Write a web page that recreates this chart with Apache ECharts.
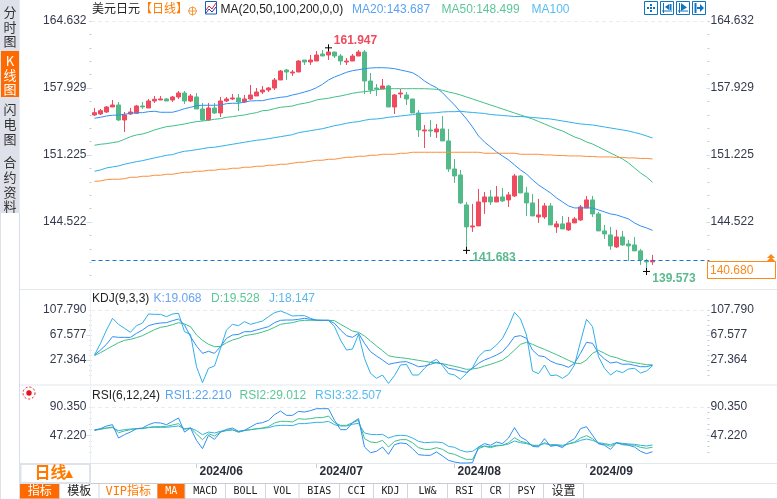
<!DOCTYPE html>
<html><head><meta charset="utf-8">
<style>html,body{margin:0;padding:0;background:#fff}#c{width:777px;height:499px}</style>
<script src="https://cdn.jsdelivr.net/npm/echarts@6/dist/echarts.min.js"></script>
</head><body><div id="c"></div>
<script>
const dates=['2024/05/09','2024/05/10','2024/05/13','2024/05/14','2024/05/15','2024/05/16','2024/05/17','2024/05/20','2024/05/21','2024/05/22','2024/05/23','2024/05/24','2024/05/27','2024/05/28','2024/05/29','2024/05/30','2024/05/31',
'2024/06/03','2024/06/04','2024/06/05','2024/06/06','2024/06/07','2024/06/10','2024/06/11','2024/06/12','2024/06/13','2024/06/14','2024/06/17','2024/06/18','2024/06/19','2024/06/20','2024/06/21','2024/06/24','2024/06/25','2024/06/26','2024/06/27','2024/06/28',
'2024/07/01','2024/07/02','2024/07/03','2024/07/04','2024/07/05','2024/07/08','2024/07/09','2024/07/10','2024/07/11','2024/07/12','2024/07/15','2024/07/16','2024/07/17','2024/07/18','2024/07/19','2024/07/22','2024/07/23','2024/07/24','2024/07/25','2024/07/26','2024/07/29','2024/07/30','2024/07/31',
'2024/08/01','2024/08/02','2024/08/05','2024/08/06','2024/08/07','2024/08/08','2024/08/09','2024/08/12','2024/08/13','2024/08/14','2024/08/15','2024/08/16','2024/08/19','2024/08/20','2024/08/21','2024/08/22','2024/08/23','2024/08/26','2024/08/27','2024/08/28','2024/08/29','2024/08/30',
'2024/09/02','2024/09/03','2024/09/04','2024/09/05','2024/09/06','2024/09/09','2024/09/10','2024/09/11','2024/09/12','2024/09/13','2024/09/16','2024/09/17'];
const blankSlots=['','','','','','','','',''];
const monthStarts=['2024/06/03','2024/07/01','2024/08/01','2024/09/02'];

const opens=[155.23,155.33,155.53,156.03,156.23,154.73,155.33,155.40,156.13,155.93,156.63,156.73,156.83,156.73,157.03,157.43,156.63,157.03,155.83,154.73,155.93,155.43,156.63,156.83,156.93,156.53,156.83,157.13,157.53,157.73,157.93,158.73,159.73,159.43,159.53,160.73,160.53,160.63,161.33,161.23,161.53,161.13,160.53,160.63,161.13,161.53,158.63,157.93,157.83,158.13,156.03,157.33,157.23,156.83,155.43,153.63,153.73,153.53,153.83,152.63,149.83,149.23,146.23,144.03,144.13,146.53,147.03,146.53,147.03,146.73,147.13,149.13,147.43,146.43,145.03,145.03,146.13,144.03,144.33,143.73,144.43,144.73,145.93,146.73,145.33,143.63,143.23,142.03,143.03,142.33,142.23,141.63,140.63,140.53];
const closes=[155.46,155.66,156.03,156.23,154.73,155.23,155.53,156.13,156.03,156.63,156.80,156.83,156.63,157.03,157.43,156.63,157.13,155.83,154.73,155.93,155.43,156.63,156.83,156.93,156.53,156.83,157.23,157.53,157.73,157.93,158.73,159.63,159.53,159.53,160.63,160.53,160.73,161.23,161.13,161.53,161.13,160.63,160.63,161.13,161.53,158.63,157.73,157.83,158.13,156.03,157.23,157.43,156.83,155.43,153.73,153.73,153.63,153.83,152.63,149.83,149.13,146.43,144.03,144.13,146.53,147.03,146.53,147.03,146.63,147.23,149.13,147.43,146.43,145.13,145.23,146.13,144.23,144.33,143.83,144.43,144.83,146.03,146.73,145.33,143.63,143.33,142.13,143.03,142.23,142.13,141.63,140.73,140.53,140.68];
const lows=[155.13,155.23,155.43,156.03,154.63,153.53,155.23,155.33,155.83,155.93,156.43,156.73,156.63,156.53,156.83,156.33,156.53,155.83,154.63,154.63,155.33,155.03,156.53,156.73,155.63,156.43,156.73,157.13,157.33,157.53,157.73,158.73,158.73,159.13,159.53,160.23,160.23,160.63,161.13,160.73,160.93,160.23,160.23,160.63,161.13,157.33,157.33,157.13,157.83,156.03,155.33,156.93,156.23,155.43,153.03,151.93,153.03,152.93,152.63,149.53,148.43,146.33,141.683,143.53,144.13,145.33,146.23,146.53,146.53,146.03,147.03,147.43,145.13,145.13,144.43,144.83,144.23,143.43,143.83,143.63,144.43,144.63,145.93,145.03,143.63,142.83,141.73,141.93,142.13,140.63,141.63,140.23,139.573,140.23];
const highs=[155.93,155.83,156.13,156.73,156.53,155.53,155.93,156.23,156.53,156.83,157.13,157.13,156.93,157.13,157.63,157.63,157.33,157.43,156.43,156.43,156.43,157.03,157.03,157.33,157.33,157.23,158.23,157.93,158.13,158.03,158.93,159.73,159.83,159.73,160.73,160.73,161.23,161.63,161.73,161.947,161.53,161.33,160.93,161.33,161.73,161.73,159.43,158.33,158.83,158.23,157.33,157.83,157.53,156.83,155.73,154.23,154.73,154.33,155.13,153.83,150.83,149.73,146.53,146.33,147.83,147.53,147.73,148.13,147.93,147.53,149.33,149.23,148.03,147.33,146.83,146.43,146.43,144.63,145.13,145.03,145.03,146.23,147.13,147.13,145.53,144.23,144.03,143.73,143.63,142.73,143.03,141.83,140.83,141.23];

const ma20=[154.90,155.00,155.13,155.20,155.23,155.30,155.40,155.46,155.46,155.56,155.60,155.50,155.50,155.50,155.66,155.86,156.00,156.16,156.20,156.20,156.20,156.23,156.36,156.40,156.40,156.53,156.63,156.66,156.66,156.80,156.90,157.00,157.06,157.23,157.36,157.53,157.70,157.96,158.30,158.73,159.03,159.26,159.50,159.66,159.76,159.86,159.93,159.96,159.96,159.93,159.86,159.73,159.60,159.46,159.10,158.63,158.26,157.96,157.46,156.83,156.23,155.53,154.83,154.03,153.13,152.53,152.03,151.53,151.13,150.73,150.23,149.73,149.33,148.73,148.23,147.83,147.43,146.93,146.53,146.13,145.93,145.93,145.93,145.93,145.73,145.53,145.33,145.23,145.03,144.83,144.43,144.13,143.93,143.687];
const ma50=[152.20,152.30,152.36,152.46,152.56,152.80,153.06,153.23,153.33,153.50,153.73,153.90,154.06,154.13,154.23,154.33,154.46,154.56,154.63,154.70,154.80,154.86,155.00,155.06,155.16,155.23,155.36,155.46,155.66,155.70,155.86,156.00,156.06,156.13,156.30,156.40,156.53,156.73,156.83,156.90,157.03,157.13,157.26,157.40,157.50,157.56,157.63,157.76,157.83,157.86,157.86,157.86,157.86,157.86,157.86,157.86,157.83,157.80,157.70,157.53,157.40,157.23,157.03,156.83,156.63,156.43,156.23,156.03,155.83,155.63,155.43,155.23,155.03,154.83,154.58,154.33,154.08,153.83,153.63,153.33,153.03,152.83,152.53,152.33,152.03,151.73,151.43,151.13,150.83,150.43,149.93,149.43,149.03,148.499];
const ma100=[149.60,149.73,149.93,150.03,150.13,150.30,150.43,150.56,150.66,150.80,150.93,151.06,151.20,151.26,151.46,151.60,151.66,151.76,151.86,151.96,152.00,152.10,152.20,152.30,152.40,152.50,152.60,152.70,152.76,152.86,152.96,153.06,153.16,153.26,153.46,153.56,153.66,153.76,153.86,154.00,154.16,154.26,154.40,154.50,154.56,154.70,154.80,154.83,154.90,155.00,155.06,155.13,155.20,155.26,155.36,155.40,155.43,155.46,155.53,155.56,155.56,155.60,155.53,155.48,155.43,155.38,155.28,155.23,155.18,155.13,155.08,155.08,155.03,154.98,154.93,154.88,154.83,154.73,154.63,154.53,154.43,154.33,154.28,154.23,154.13,154.03,153.93,153.83,153.73,153.63,153.48,153.33,153.13,152.93];
const ma200=[148.60,148.63,148.76,148.80,148.80,148.86,149.00,149.00,149.10,149.10,149.20,149.20,149.30,149.30,149.40,149.50,149.50,149.60,149.60,149.70,149.70,149.80,149.80,149.90,149.90,150.00,150.00,150.10,150.10,150.20,150.20,150.30,150.30,150.40,150.50,150.50,150.60,150.70,150.70,150.80,150.80,150.90,151.00,151.00,151.10,151.10,151.20,151.20,151.30,151.30,151.30,151.40,151.40,151.50,151.50,151.50,151.50,151.50,151.50,151.50,151.50,151.50,151.50,151.50,151.50,151.40,151.40,151.40,151.40,151.40,151.40,151.30,151.30,151.30,151.30,151.23,151.23,151.18,151.18,151.13,151.13,151.13,151.08,151.08,151.03,151.03,151.03,150.98,150.98,150.93,150.93,150.88,150.88,150.83];

const kdjK=[35.4,43.4,52.6,64.9,63.8,63.8,63.8,70.3,75.6,82.6,85.3,86.9,87.4,90.6,93.3,83.7,64.9,49.9,38.1,41.3,38.1,48.8,62.2,67.6,68.6,72.9,72.9,75.6,78.3,81.0,87.4,91.2,91.7,91.7,92.8,94.4,92.8,91.7,91.2,91.2,86.3,75.6,66.5,63.8,70.3,54.2,40.8,33.8,27.4,20.4,22.5,24.1,24.7,20.9,16.6,17.7,20.4,23.6,20.9,14.0,12.3,9.7,7.5,14.0,22.0,27.4,31.1,35.4,40.8,51.5,64.9,66.5,62.2,43.4,34.3,32.7,25.7,21.5,19.3,15.6,22.0,38.1,55.8,54.2,38.1,29.0,22.5,24.1,20.4,20.9,18.8,16.6,16.6,19.068];
const kdjD=[34.3,39.2,44.5,49.9,55.2,59.0,60.6,63.3,66.5,71.3,76.1,79.9,81.5,84.2,87.4,85.3,81.0,67.6,59.0,52.6,48.8,49.3,55.2,59.5,62.2,66.5,68.1,69.7,72.4,75.6,79.9,84.7,86.3,87.4,90.1,91.2,91.2,91.2,91.2,91.2,90.6,84.7,79.4,74.0,71.9,66.0,57.9,49.9,42.4,34.3,32.2,31.1,30.0,28.4,26.8,25.2,23.6,22.5,21.5,19.3,17.2,15.0,12.3,12.9,14.5,17.7,20.4,23.6,27.4,34.3,43.4,52.6,55.8,52.6,48.3,44.5,40.2,35.9,31.6,26.8,22.5,21.5,27.4,38.1,42.9,38.1,33.3,31.1,27.4,24.7,23.1,21.5,19.8,19.528];
const kdjJ=[35.4,54.2,75.6,94.4,84.7,78.3,71.9,82.6,86.9,101.4,100.8,100.8,97.1,101.4,102.4,72.9,68.6,16.6,-9.1,14.0,17.7,46.1,75.6,84.7,82.6,89.0,84.7,87.4,90.1,97.1,103.5,106.2,102.4,98.1,98.7,98.7,94.4,91.2,91.2,91.2,81.0,59.5,43.4,45.0,68.6,30.0,5.9,-2.1,3.2,-10.2,2.2,19.3,20.4,3.2,3.2,14.0,23.6,28.4,18.2,5.4,3.2,-3.7,5.9,15.0,32.7,41.8,43.4,51.5,62.2,81.0,104.0,93.3,67.6,9.7,5.4,19.3,2.2,3.2,-2.1,4.3,19.3,56.8,92.8,81.0,32.7,14.0,3.2,10.2,7.0,12.9,14.0,6.4,9.7,18.147];

const rsi1=[54.8,57.3,61.4,63.4,43.1,48.2,52.2,57.3,58.3,63.4,66.5,66.0,63.4,68.5,73.6,52.2,58.3,39.5,26.9,47.2,41.1,52.2,56.3,58.3,53.3,54.8,59.9,65.0,66.5,70.0,78.7,84.2,77.6,77.6,83.7,82.7,84.8,87.8,87.8,87.8,70.0,55.8,55.8,66.5,72.6,29.4,20.7,22.8,29.4,18.2,33.0,35.5,34.5,26.9,17.7,16.7,16.7,21.8,15.7,9.1,6.5,5.0,5.0,5.5,29.4,34.5,32.0,37.0,34.5,43.1,58.9,44.6,39.5,30.4,29.4,42.1,30.4,32.0,28.4,37.0,42.1,57.3,60.4,47.2,34.5,32.0,25.8,36.0,33.0,32.0,29.4,22.8,19.2,22.21];
const rsi2=[54.8,56.3,58.3,59.9,51.2,53.8,55.8,57.3,57.3,59.4,60.4,60.4,60.9,62.9,65.0,56.3,58.3,49.2,40.6,49.7,46.2,52.2,54.8,55.8,51.7,54.8,55.8,57.3,58.3,60.4,66.0,68.5,68.5,67.5,72.6,71.6,72.6,74.1,74.1,76.6,66.5,62.4,62.4,66.5,70.0,42.1,37.0,36.0,39.5,29.4,38.0,40.6,40.6,36.0,28.4,25.8,25.8,28.4,25.8,20.2,18.2,14.1,10.6,10.6,26.9,30.4,28.4,30.9,32.0,36.0,43.6,38.0,36.0,32.0,30.9,36.0,32.0,32.0,30.4,34.5,37.0,43.1,46.7,42.1,34.5,33.5,30.4,35.5,34.0,33.0,32.0,28.9,27.4,29.012];
const rsi3=[55.8,56.8,58.3,58.9,54.3,55.8,56.8,57.3,57.8,58.9,59.4,59.4,59.4,60.4,61.4,57.3,58.3,54.3,48.2,52.2,50.7,53.3,54.3,55.3,52.8,54.3,55.8,56.8,57.8,58.9,61.4,62.4,62.4,61.9,65.0,65.0,66.0,67.0,67.0,68.5,63.4,61.4,61.4,64.0,65.5,50.7,48.7,48.2,48.7,43.1,46.2,47.2,46.7,43.1,38.0,36.0,36.5,37.0,36.0,30.4,28.9,24.3,21.8,22.8,28.9,30.9,29.9,32.0,32.0,34.0,38.5,36.0,34.5,32.0,32.0,34.5,33.0,33.0,32.0,34.0,36.0,39.5,41.6,39.5,36.0,34.5,33.0,36.0,35.0,34.0,33.5,32.0,30.9,32.507];

const priceTicks=[164.632,157.929,151.225,144.522];
const kdjTicks=[107.790,67.577,27.364];
const rsiTicks=[90.350,47.220];
const lastPrice=140.680;

const C={up:'#ef4a5e',down:'#52ba88',m20:'#2f8ff5',m50:'#3fc088',m100:'#2fb0e8',m200:'#f98f3e',axis:'#333a4d',border:'#e1e9ef',orange:'#ff7a00',box:'#0f75bc'};
const FONT='"Liberation Sans",Arial,sans-serif';
const CJK='"Liberation Sans","Noto Sans CJK SC",sans-serif';
const categories=dates.concat(blankSlots);
const ohlc=opens.map((o,i)=>[o,closes[i],lows[i],highs[i]]);

const panels=[
 {top:21,height:266,ticks:priceTicks,perPx:0.10005,minorStep:13.4,minorCount:20},
 {top:310,height:75,ticks:kdjTicks,perPx:1.6085,minorStep:5,minorCount:14},
 {top:407,height:56,ticks:rsiTicks,perPx:1.524,minorStep:5.66,minorCount:9}
];
const GL=91.5,GW=618;
const grids=panels.map(p=>({left:GL,width:GW,top:p.top,height:p.height,containLabel:false}));
const isMonth=(i,v)=>monthStarts.includes(v);
const xAxes=panels.map((p,i)=>({type:'category',gridIndex:i,data:categories,boundaryGap:true,
  axisLine:{show:i===2,lineStyle:{color:C.border}},
  axisTick:{show:i===2,alignWithLabel:true,interval:isMonth,length:5,lineStyle:{color:'#c9ced6'}},
  axisLabel:{show:i===2,interval:isMonth,align:'left',margin:3,formatter:v=>v?v.slice(0,7):'',color:'#2b2f3a',fontWeight:'bold',fontSize:12,fontFamily:FONT,padding:[0,0,0,3]},
  splitLine:{show:false}}));
const yAxes=[];
panels.forEach((p,i)=>{
  const max=p.ticks[0],min=max-p.height*p.perPx;
  const minors=[];for(let k=0;k<p.minorCount;k++)minors.push(max-k*p.minorStep*p.perPx);
  const base={type:'value',gridIndex:i,min,max,scale:true,splitLine:{show:false},axisLine:{show:false}};
  yAxes.push(Object.assign({},base,{position:'left',
    axisTick:{show:true,customValues:minors,length:2,lineStyle:{color:'#c4c8cf'}},
    axisLabel:{show:true,customValues:p.ticks,margin:5,color:C.axis,fontSize:12,fontFamily:FONT,formatter:v=>v.toFixed(3)}}));
  yAxes.push(Object.assign({},base,{position:'right',
    axisTick:{show:true,inside:true,customValues:minors,length:2,lineStyle:{color:'#c4c8cf'}},
    axisLabel:{show:true,customValues:p.ticks,margin:1,color:C.axis,fontSize:12,fontFamily:FONT,formatter:v=>v.toFixed(3)}}));
});
/* the short dashes beside the tick labels */
panels.forEach((p,i)=>{
  const max=p.ticks[0],min=max-p.height*p.perPx,majors=p.ticks.slice(1);
  const base={type:'value',gridIndex:i,min,max,scale:true,splitLine:{show:false},axisLine:{show:false},axisLabel:{show:false}};
  yAxes.push(Object.assign({},base,{position:'left',axisTick:{show:true,customValues:majors,length:5,lineStyle:{color:'#cfdbe6'}}}));
  yAxes.push(Object.assign({},base,{position:'right',axisTick:{show:true,inside:true,customValues:majors,length:3,lineStyle:{color:'#cfdbe6'}}}));
});
const ln=(name,data,color,g)=>({name,type:'line',data,xAxisIndex:g,yAxisIndex:g*2,symbol:'none',showSymbol:false,smooth:false,clip:false,silent:true,z:3,
  lineStyle:{color,width:1},itemStyle:{color}});
const CROSS='path://M0,5L10,5M5,0L5,10';
const ext=(idx,val,color,off)=>({coord:[idx,val],value:val,symbol:CROSS,symbolSize:7,
  itemStyle:{color:'transparent',borderColor:'#000',borderWidth:1},
  label:{show:true,position:'inside',offset:off,formatter:val.toFixed(3),color,fontSize:12,fontWeight:'bold',fontFamily:FONT}});
const series=[
 {name:'K',type:'candlestick',data:ohlc,xAxisIndex:0,yAxisIndex:0,barWidth:5,silent:true,
  itemStyle:{color:C.up,color0:C.down,borderColor:C.up,borderColor0:C.down,borderWidth:1},
  markPoint:{silent:true,z:6,data:[ext(39,Math.max(...highs),'#ef4a5e',[27,-7]),ext(62,lows[62],'#5cb98e',[27.5,7.5]),ext(92,Math.min(...lows),'#5cb98e',[27.5,7])]},
  markLine:{silent:true,symbol:'none',animation:false,data:[{yAxis:lastPrice}],lineStyle:{color:'#1a7ad9',type:[4,3],width:1},label:{show:false}}},
 ln('MA20',ma20,C.m20,0),ln('MA50',ma50,C.m50,0),ln('MA100',ma100,C.m100,0),ln('MA200',ma200,C.m200,0),
 ln('J',kdjJ,C.m100,1),ln('D',kdjD,C.m50,1),ln('K',kdjK,C.m20,1),
 ln('RSI3',rsi3,C.m100,2),ln('RSI2',rsi2,C.m50,2),ln('RSI1',rsi1,C.m20,2)
];

/* page furniture */
const G=[];
let o_z=1;
const T=(text,x,y,fill,o={})=>G.push({type:'text',z:30,style:Object.assign({text,x,y,fill,font:(o.weight||'normal')+' '+(o.size||12)+'px '+(o.family||CJK),verticalAlign:o.va||'middle',align:o.align||'left'},o.lh?{lineHeight:o.lh}:{})});
const R=(x,y,w,h,fill,stroke,lw)=>G.push({type:'rect',z:o_z,shape:{x,y,width:w,height:h},style:{fill:fill||'none',stroke:stroke||null,lineWidth:lw||1}});
const L=(a,b,c,d,stroke,extra)=>G.push({type:'line',z:o_z,shape:{x1:a,y1:b,x2:c,y2:d},style:Object.assign({stroke,lineWidth:1},extra||{})});
/* panel chrome */
R(0,0,19.5,213,'#dfe1ea');
R(1,51,18,46,'#ff6a00');
L(0.5,213,0.5,499,'#dde2ea');L(19.5,213,19.5,499,'#d5deea');L(19.5,0,19.5,213,'#e8ecf2');
L(20,289.5,777,289.5,C.border);L(20,385,777,385,C.border);L(20,463.5,777,463.5,C.border);L(90.5,290,90.5,463,'#edf1f5');
[21.5,310.5,407.5].forEach(y=>L(91,y,705,y,'#ececec',{lineDash:[4,3]}));
L(20,483.5,583,483.5,'#c9ccd4');L(20,498.5,777,498.5,'#d8dbe0');L(583,483.5,777,483.5,'#e4e6ea');
R(20.5,464,69.5,19,'#fff','#dde3ea',2);
/* sidebar labels */
const SIDE='"Noto Sans CJK SC"';
T('分\n时\n图',10,5,'#333',{size:13,align:'center',va:'top',lh:14.5,family:SIDE});
T('K\n线\n图',10,54,'#fff',{size:13,align:'center',va:'top',lh:14,family:SIDE});
T('闪\n电\n图',10,102,'#333',{size:13,align:'center',va:'top',lh:15,family:SIDE});
T('合\n约\n资\n料',10,155,'#333',{size:13,align:'center',va:'top',lh:14.7,family:SIDE});
/* header */
T('美元日元',92,10,'#222');
T('【日线】',140,10,C.orange);
G.push({type:'circle',z:20,shape:{cx:192.5,cy:11,r:3.8},style:{fill:'none',stroke:'#f39c3e'}});
o_z=20;L(188,11,197,11,'#f39c3e');L(192.5,6.5,192.5,15.5,'#f39c3e');
R(205.5,1.5,11,12.5,'#fff','#1a5fb4');
G.push({type:'polyline',z:21,shape:{points:[[206,10],[209,6],[212,9],[216,3]]},style:{stroke:'#e0242f',fill:'none'}});
G.push({type:'polyline',z:21,shape:{points:[[206,13],[209,9],[212,12],[216,7]]},style:{stroke:'#1a3fb4',fill:'none'}});
T('MA(20,50,100,200,0,0)',220.5,10,'#222');
T('MA20:143.687',352,10,'#5aa3f2');
T('MA50:148.499',441.5,10,'#5cc69a');
T('MA100',531.5,10,'#58bdf0');
/* toolbar */
[644.5,660.5,676.5,692.5].forEach(x=>R(x,1.5,13,13,'#fff',C.box));
o_z=21;
L(647,8,656,8,C.box,{lineDash:[2,1],lineWidth:2});L(651,4,651,13,C.box,{lineDash:[2,1],lineWidth:2});
L(663.5,3,663.5,13,C.box);L(662,11,672,11,C.box);L(670.5,4,670.5,10,C.box,{lineWidth:2});
G.push({type:'polygon',z:21,shape:{points:[[665,7],[669,4],[669,10]]},style:{fill:C.box}});
L(679.5,3,679.5,13,C.box);L(678,11,688,11,C.box);
G.push({type:'polygon',z:21,shape:{points:[[681,3],[687,7.5],[681,11]]},style:{fill:C.box}});
L(695.5,3,695.5,13,C.box,{lineWidth:2});L(697,8,702,8,C.box,{lineWidth:2});
G.push({type:'polygon',z:21,shape:{points:[[700,4],[704,8],[700,12]]},style:{fill:C.box}});
/* indicator legends */
T('KDJ(9,3,3)',92,298.5,'#222');
T('K:19.068',153.5,298.5,'#6aa4f2');T('D:19.528',211,298.5,'#5cc69a');T('J:18.147',269,298.5,'#5cb6ea');
T('RSI(6,12,24)',92,395.5,'#222');
T('RSI1:22.210',165,395.5,'#5aa3f2');T('RSI2:29.012',239.5,395.5,'#5cc69a');T('RSI3:32.507',315,395.5,'#58bdf0');
G.push({type:'circle',z:20,shape:{cx:29,cy:393,r:2.7},style:{fill:'#e8101a'}});
G.push({type:'circle',z:20,shape:{cx:29,cy:393,r:6},style:{fill:'none',stroke:'#e8101a',lineDash:[2,2]}});
/* last price tag */
o_z=21;
R(707.5,261.5,68,17,'#fff','#f98a1c');
T(lastPrice.toFixed(3),710,270.5,'#f98a1c',{family:FONT});
G.push({type:'polygon',z:22,shape:{points:[[771,254],[775,258],[767,258]]},style:{fill:'#f98a1c'}});
G.push({type:'polygon',z:22,shape:{points:[[771,257],[775,261],[767,261]]},style:{fill:'#f98a1c'}});
/* period */
T('日线',34.5,474,C.orange,{size:16,weight:'bold'});
G.push({type:'polygon',z:22,shape:{points:[[69,470],[73,478],[65,478]]},style:{fill:C.orange}});
/* tabs */
const MONO='"DejaVu Sans Mono",monospace';
const tabs=[['指标',20,59.5,1],['模板',59.5,99,0],['VIP指标',99,157.5,2],['MA',157.5,185,1],['MACD',185,225.5,0],['BOLL',225.5,265.5,0],['VOL',265.5,299,0],['BIAS',299,339.5,0],['CCI',339.5,373.5,0],['KDJ',373.5,407.5,0],['LW&',407.5,447.5,0],['RSI',447.5,481.5,0],['CR',481.5,509.5,0],['PSY',509.5,543.5,0],['设置',543.5,583.5,0]];
tabs.forEach(([t,a,b,k])=>{
  o_z=3;
  if(k===1)R(a,484,b-a,14.5,'#ff6a00');
  L(b,484,b,498,'#d2d5da');
  const cjk=/[\u4e00-\u9fff]/.test(t);
  T(t,(a+b)/2,491.5,k===1?'#fff':k===2?C.orange:'#222',{align:'center',size:cjk?12:10,family:cjk?'"DejaVu Sans Mono","Noto Sans CJK SC"':MONO});
});

const chart=echarts.init(document.getElementById('c'),null,{renderer:'canvas'});
chart.setOption({animation:false,backgroundColor:'#fff',grid:grids,xAxis:xAxes,yAxis:yAxes,series,graphic:G,tooltip:{show:false},legend:{show:false}});
</script></body></html>
